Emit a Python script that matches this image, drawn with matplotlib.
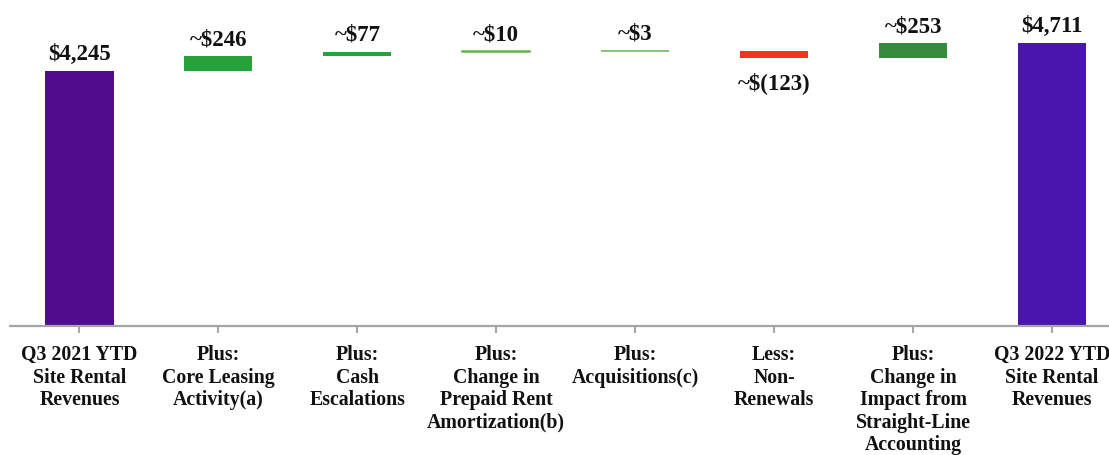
import matplotlib
matplotlib.use("Agg")
import matplotlib.pyplot as plt

categories = [
    "Q3 2021 YTD\nSite Rental\nRevenues",
    "Plus:\nCore Leasing\nActivity(a)",
    "Plus:\nCash\nEscalations",
    "Plus:\nChange in\nPrepaid Rent\nAmortization(b)",
    "Plus:\nAcquisitions(c)",
    "Less:\nNon-\nRenewals",
    "Plus:\nChange in\nImpact from\nStraight-Line\nAccounting",
    "Q3 2022 YTD\nSite Rental\nRevenues",
]
values = [4245, 246, 77, 10, 3, -123, 253, 4711]
is_total = [True, False, False, False, False, False, False, True]
labels = ["$4,245", "~$246", "~$77", "~$10", "~$3", "~$(123)", "~$253", "$4,711"]
colors = ["#500c8c", "#27a23a", "#27a23a", "#66b34e", "#66b34e", "#f5341f", "#378b3f", "#4a14ae"]

plt.rcParams['font.family'] = ['Liberation Serif', 'DejaVu Serif']
plt.rcParams['font.weight'] = 'bold'

fig = plt.figure(figsize=(11.09, 4.56), dpi=100)
ax = fig.add_axes([10/1109, (456-327)/456, 1099/1109, 327/456])

x = list(range(len(values)))
bottoms, heights = [], []
running = 0
for v, tot in zip(values, is_total):
    if tot:
        bottoms.append(0)
        heights.append(v)
        running = v
    else:
        if v >= 0:
            bottoms.append(running)
        else:
            bottoms.append(running + v)
        heights.append(abs(v))
        running += v

for i in x:
    ax.bar(i, heights[i], bottom=bottoms[i], width=0.49, color=colors[i],
           edgecolor=colors[i], linewidth=1.1 if heights[i] < 50 else 0)
    if values[i] >= 0:
        ax.annotate(labels[i], (i, bottoms[i] + heights[i]), xytext=(0, 5),
                    textcoords="offset points", ha="center", va="bottom",
                    fontsize=16.5, fontweight="bold", color="#111111")
    else:
        ax.annotate(labels[i], (i, bottoms[i]), xytext=(0, -9),
                    textcoords="offset points", ha="center", va="top",
                    fontsize=16.5, fontweight="bold", color="#111111")

ax.set_xlim(-0.5, 7.41)
ax.set_ylim(0, 5445)
ax.set_xticks(x)
ax.set_xticklabels(categories, fontsize=14.3, fontweight="bold", linespacing=1.17, color="#111111")
ax.set_yticks([])
for s in ["top", "right", "left"]:
    ax.spines[s].set_visible(False)
ax.spines["bottom"].set_color("#a6a6a6")
ax.spines["bottom"].set_linewidth(1.6)
ax.tick_params(axis="x", colors="#a6a6a6", width=1.5, length=5, pad=8, labelcolor="#111111")

fig.savefig("out.png", dpi=100)
